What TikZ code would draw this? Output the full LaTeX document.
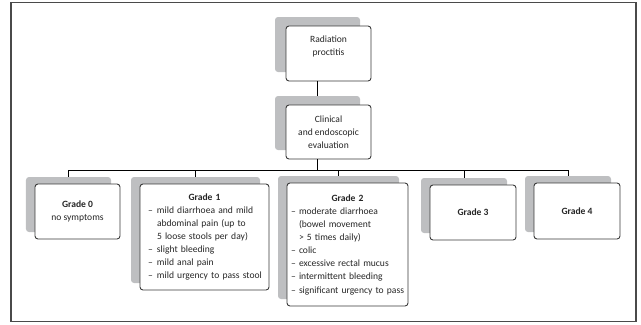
\documentclass[tikz,border=0pt]{standalone}
\usepackage{fontspec}
\setmainfont{Carlito}
\definecolor{shadegray}{HTML}{BEBFC1}
\definecolor{edge}{HTML}{3A3A3A}
\definecolor{ink}{HTML}{262626}
\definecolor{framegray}{HTML}{4A4A4A}
\newcommand\dashA[1]{\mbox{\makebox[9bp][l]{\textendash}#1}}
\newcommand\contA[1]{\mbox{\hspace*{9bp}#1}}
\newcommand\dashB[1]{\mbox{\makebox[8bp][l]{\textendash}#1}}
\newcommand\contB[1]{\mbox{\hspace*{8bp}#1}}
\begin{document}
\begin{tikzpicture}[x=1bp,y=-1bp,
  box/.style={draw=edge, line width=0.9bp, fill=white, rounded corners=3bp,
    inner sep=0pt, font=\fontsize{9.6}{13.2}\selectfont, text=ink, align=center},
  shadebox/.style={fill=shadegray, rounded corners=3bp, inner sep=0pt},
  link/.style={draw=black, line width=0.7bp},
  frame/.style={draw=framegray, line width=1.3bp}]
\useasboundingbox (0,0) rectangle (641,324);
\draw[frame] (11,2.5) rectangle (636,321.5);
% shadows
\node[shadebox, minimum width=85bp, minimum height=55bp] (radS) at (317.5,44.5) {};
\node[shadebox, minimum width=85bp, minimum height=54bp] (clinS) at (317.5,123) {};
\node[shadebox, minimum width=85bp, minimum height=55bp] (g0S) at (68.5,204.5) {};
\node[shadebox, minimum width=129bp, minimum height=106bp] (g1S) at (195.5,230) {};
\node[shadebox, minimum width=121bp, minimum height=123bp] (g2S) at (338.5,237.5) {};
\node[shadebox, minimum width=86bp, minimum height=55bp] (g3S) at (464,205.5) {};
\node[shadebox, minimum width=86bp, minimum height=56bp] (g4S) at (568,204) {};
% boxes
\node[box, minimum width=85bp, minimum height=55bp] (rad) at (328.5,53.5) {Radiation\\proctitis\\[3bp]};
\node[box, minimum width=85bp, minimum height=54bp] (clin) at (328.5,132) {Clinical\\and endoscopic\\evaluation};
\node[box, minimum width=85bp, minimum height=55bp] (g0) at (77.5,211.5) {\textbf{Grade 0}\\no symptoms};
\node[box, minimum width=129bp, minimum height=106bp, align=left, inner xsep=8bp, text width=113bp] (g1) at (204.5,237)
 {\makebox[\hsize]{\textbf{Grade 1}}\\
  \dashA{mild diarrhoea and mild}\\
  \contA{abdominal pain (up to}\\
  \contA{5 loose stools per day)}\\
  \dashA{slight bleeding}\\
  \dashA{mild anal pain}\\
  \dashA{mild urgency to pass stool}};
\node[box, minimum width=121bp, minimum height=123bp, align=left, inner xsep=4bp, text width=113bp] (g2) at (347.5,244.5)
 {\makebox[\hsize]{\textbf{Grade 2}}\\
  \dashB{moderate diarrhoea}\\
  \contB{(bowel movement}\\
  \contB{> 5 times daily)}\\
  \dashB{colic}\\
  \dashB{excessive rectal mucus}\\
  \dashB{intermittent bleeding}\\
  \dashB{significant urgency to pass}};
\node[box, minimum width=86bp, minimum height=55bp] (g3) at (473,212.5) {\textbf{Grade 3}};
\node[box, minimum width=86bp, minimum height=56bp] (g4) at (577,211) {\textbf{Grade 4}};
% connectors
\coordinate (bus) at (317.5,170.5);
\draw[link] (rad.south -| radS.north) -- (clinS.north);
\draw[link] (clin.south -| clinS.north) -- (bus);
\draw[link] (g0S.north) -- (g0S.north |- bus) -- (g4S.north |- bus) -- (g4S.north);
\draw[link] (g1S.north) -- (g1S.north |- bus);
\draw[link] (g2S.north) -- (g2S.north |- bus);
\draw[link] (g3S.north) -- (g3S.north |- bus);
\end{tikzpicture}
\end{document}
